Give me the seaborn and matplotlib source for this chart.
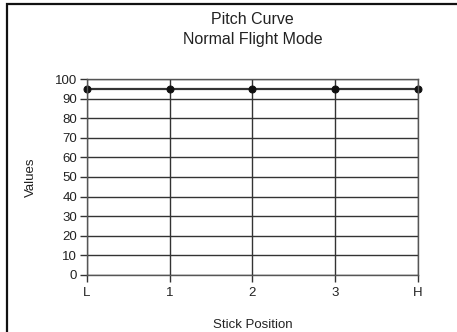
import pandas as pd
import matplotlib.pyplot as plt
import seaborn as sns
from matplotlib.patches import Rectangle

# data
stick_positions = ['L', '1', '2', '3', 'H']
pitch_values = [95, 95, 95, 95, 95]
y_ticks = [0, 10, 20, 30, 40, 50, 60, 70, 80, 90, 100]

df = pd.DataFrame({'pos': range(len(stick_positions)), 'value': pitch_values})

sns.set_style('white')
plt.rcParams['font.family'] = ['Liberation Sans', 'DejaVu Sans']

fig = plt.figure(figsize=(4.57, 3.32), dpi=100)
ax = fig.add_axes([0.190, 0.172, 0.725, 0.590])

# frame around the figure (only left/top edges show)
fig.patches.append(Rectangle((7 / 457, -0.1), 1.2, 1 - 4.5 / 332 + 0.1,
                             transform=fig.transFigure, fill=False,
                             edgecolor='#111111', linewidth=1.6))

sns.lineplot(data=df, x='pos', y='value', ax=ax, color='#333333', linewidth=1.6,
             marker='o', markersize=5, markeredgecolor='#111111',
             markerfacecolor='#111111', clip_on=False)

ax.set_xlim(0, 4)
ax.set_ylim(0, 100)
ax.set_xticks(range(len(stick_positions)))
ax.set_xticklabels(stick_positions)
ax.set_yticks(y_ticks)
ax.grid(True, color='#333333', linewidth=1.0)
ax.set_axisbelow(True)
for s in ax.spines.values():
    s.set_color('#555555')
    s.set_linewidth(1.0)
ax.tick_params(axis='both', length=5, width=1.0, color='#333333',
               labelsize=9.5, labelcolor='#222222', direction='out',
               bottom=True, left=True)
ax.tick_params(axis='x', pad=4)
ax.tick_params(axis='y', pad=2)

ax.set_title('Pitch Curve\nNormal Flight Mode', fontsize=11.5, color='#222222',
             pad=25, linespacing=1.45)
ax.set_xlabel('Stick Position', fontsize=9.5, color='#222222', labelpad=14)
ax.set_ylabel('Values', fontsize=9.5, color='#222222', labelpad=13)

fig.savefig('out.png', dpi=100)
